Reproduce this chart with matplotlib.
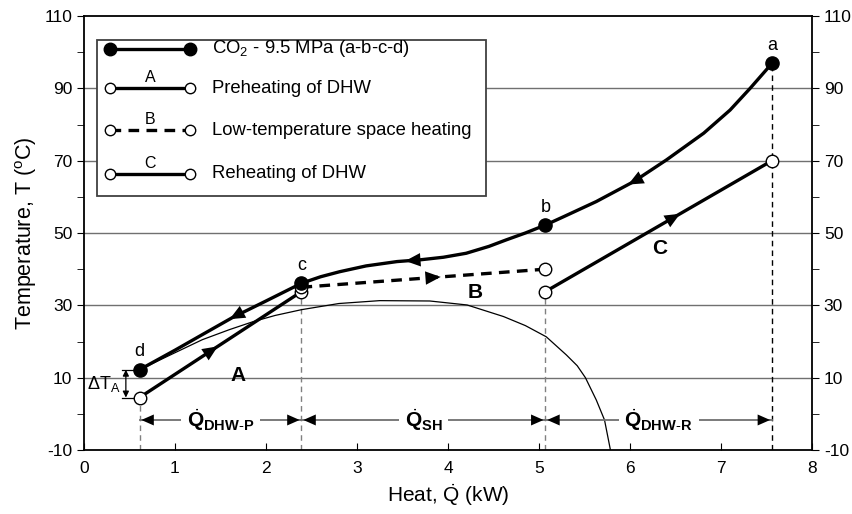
import numpy as np
import matplotlib
matplotlib.use("Agg")
from matplotlib import pyplot as plt
from matplotlib.patches import Rectangle
from matplotlib.lines import Line2D

plt.rcParams['font.family'] = ['Liberation Sans', 'DejaVu Sans']
plt.rcParams['mathtext.fontset'] = 'custom'
plt.rcParams['mathtext.rm'] = 'Liberation Sans'
plt.rcParams['mathtext.it'] = 'Liberation Sans:italic'
plt.rcParams['mathtext.bf'] = 'Liberation Sans:bold'
plt.rcParams['axes.unicode_minus'] = False

# CO2 gas cooler curve a-b-c-d (heat in kW, temperature in C)
co2_q = [0.61, 1.0, 1.3, 1.63, 2.0, 2.39, 2.6, 2.81, 3.1, 3.44, 3.7, 3.95, 4.2, 4.45, 4.64,
         4.85, 5.07, 5.27, 5.63, 6.04, 6.4, 6.81, 7.1, 7.32, 7.56]
co2_t = [12.2, 17.6, 21.9, 26.6, 31.2, 36.1, 37.9, 39.3, 40.9, 42.1, 42.6, 43.3, 44.4, 46.3, 48.1,
         50.0, 52.2, 54.5, 58.7, 64.2, 70.2, 77.6, 84.0, 90.0, 96.9]
state_q = [7.56, 5.07, 2.39, 0.61]
state_t = [96.9, 52.2, 36.1, 12.2]
state_lbl = ['a', 'b', 'c', 'd']

# water side processes
a_q = [0.61, 2.39]
a_t = [4.5, 33.8]
b_q = [2.39, 5.07]
b_t = [35.0, 40.0]
c_q = [5.07, 7.56]
c_t = [33.8, 70.0]

# thin curve
thin_q = [0.61, 1.0, 1.3, 1.6, 1.86, 2.1, 2.39, 2.8, 3.25, 3.8, 4.21, 4.61, 4.85, 5.08, 5.30,
          5.42, 5.51, 5.63, 5.72, 5.785]
thin_t = [12.2, 16.9, 20.5, 23.3, 25.5, 27.2, 28.8, 30.5, 31.3, 31.2, 30.1, 26.9, 24.4, 21.3, 16.3,
          13.3, 10.0, 3.8, -1.7, -10.0]

# heat duty segments
seg_q = [0.61, 2.39, 5.07, 7.56]
seg_lbl = [r'$\dot{\mathbf{Q}}_{\mathbf{DHW}\text{-}\mathbf{P}}$',
           r'$\dot{\mathbf{Q}}_{\mathbf{SH}}$',
           r'$\dot{\mathbf{Q}}_{\mathbf{DHW}\text{-}\mathbf{R}}$']
seg_y = -1.7

fig = plt.figure(figsize=(8.53, 5.14), dpi=100)
ax = fig.add_axes([84/853, 1-450/514, 728/853, 434/514])
ax.set_xlim(0, 8)
ax.set_ylim(-10, 110)

for y in [10, 30, 50, 70, 90]:
    ax.axhline(y, color='#707070', lw=1.0, zorder=1)

ax.plot(thin_q, thin_t, color='black', lw=0.9, zorder=3)

lw = 2.4
ax.plot(a_q, a_t, color='black', lw=lw, zorder=4)
ax.plot(b_q, b_t, color='black', lw=lw, ls=(0, (3.2, 2.2)), zorder=4)
ax.plot(c_q, c_t, color='black', lw=lw, zorder=4)
ax.plot(co2_q, co2_t, color='black', lw=lw, zorder=5, solid_joinstyle='round')

open_q = a_q + b_q + c_q
open_t = a_t + b_t + c_t
ax.plot(open_q, open_t, 'o', ms=9, mfc='white', mec='black', mew=1.0, zorder=6)
ax.plot(state_q, state_t, 'o', ms=9.5, mfc='black', mec='black', zorder=7)

# vertical dashed guides
for q, t0, col in [(0.61, 4.5, '#808080'), (2.39, 33.8, '#808080'), (5.07, 33.8, '#808080'), (7.56, 96.9, 'black')]:
    ax.plot([q, q], [-10, t0], color=col, lw=1.0, ls=(0, (4, 3)), zorder=2)


def head(qs, ts, q, reverse=False, size=22, color='black'):
    d = 0.02
    t1 = np.interp(q - d, qs, ts)
    t2 = np.interp(q + d, qs, ts)
    p1, p2 = (q - d, t1), (q + d, t2)
    if reverse:
        p1, p2 = p2, p1
    ax.annotate('', xy=p2, xytext=p1,
                arrowprops=dict(arrowstyle='-|>,head_length=0.5,head_width=0.22', color=color, lw=0,
                                mutation_scale=size, shrinkA=0, shrinkB=0),
                zorder=8)


head(a_q, a_t, 1.45)
head(b_q, b_t, 3.9)
head(c_q, c_t, 6.53)
head(co2_q, co2_t, 6.0, reverse=True)
head(co2_q, co2_t, 3.55, reverse=True)
head(co2_q, co2_t, 1.62, reverse=True)

for q, t, s in zip(state_q, state_t, state_lbl):
    ax.text(q, t + 2.6, s, ha='center', va='bottom', fontsize=13)

ax.text(1.69, 10.6, 'A', fontsize=15, fontweight='bold', ha='center', va='center')
ax.text(4.3, 33.6, 'B', fontsize=15, fontweight='bold', ha='center', va='center')
ax.text(6.33, 45.7, 'C', fontsize=15, fontweight='bold', ha='center', va='center')

# heat duty arrows
for i in range(3):
    q0, q1 = seg_q[i], seg_q[i + 1]
    ax.plot([q0, q1], [seg_y, seg_y], color='#707070', lw=1.3, zorder=3)
    for qa, qb in [(q0 + 0.12, q0 + 0.02), (q1 - 0.12, q1 - 0.02)]:
        ax.annotate('', xy=(qb, seg_y), xytext=(qa, seg_y),
                    arrowprops=dict(arrowstyle='-|>,head_length=0.5,head_width=0.22', color='black',
                                    lw=0, mutation_scale=18, shrinkA=0, shrinkB=0), zorder=4)
    ax.text((q0 + q1) / 2, seg_y, seg_lbl[i], fontsize=15, ha='center', va='center',
            bbox=dict(fc='white', ec='none', pad=4), zorder=4)

# delta T_A marker
ax.plot([0.42, 0.61], [12.2, 12.2], color='black', lw=0.9)
ax.plot([0.42, 0.61], [4.5, 4.5], color='black', lw=0.9)
ax.annotate('', xy=(0.46, 12.2), xytext=(0.46, 4.5),
            arrowprops=dict(arrowstyle='<|-|>', color='black', lw=0.9,
                            mutation_scale=9, shrinkA=0, shrinkB=0))
ax.text(0.40, 8.2, r'$\Delta$T$_\mathrm{A}$', fontsize=13, ha='right', va='center')

# legend drawn by hand
ax.add_patch(Rectangle((0.018, 0.585), 0.534, 0.36, transform=ax.transAxes,
                       fc='white', ec='#404040', lw=1.3, zorder=9))
rows = [0.924, 0.834, 0.737, 0.636]
entries = [('CO$_2$ - 9.5 MPa (a-b-c-d)', '-', 'black', ''),
           ('Preheating of DHW', '-', 'white', 'A'),
           ('Low-temperature space heating', (0, (3.2, 2.2)), 'white', 'B'),
           ('Reheating of DHW', '-', 'white', 'C')]
for y, (lbl, ls, fc, letter) in zip(rows, entries):
    ax.add_line(Line2D([0.0357, 0.146], [y, y], transform=ax.transAxes, color='black',
                       lw=lw, ls=ls, marker='o', ms=9 if fc == 'black' else 7.5,
                       mfc=fc, mec='black', mew=1.0, zorder=10))
    ax.text(0.176, y, lbl, transform=ax.transAxes, fontsize=13.3, va='center', zorder=10)
    if letter:
        ax.text(0.0907, y + 0.008, letter, transform=ax.transAxes, fontsize=11.5,
                ha='center', va='bottom', zorder=10)

ax.set_yticks(np.arange(-10, 111, 20))
ax.set_yticks(np.arange(0, 101, 20), minor=True)
ax.set_xticks(np.arange(0, 9, 1))
ax.tick_params(axis='y', which='both', direction='out', length=5, left=True, right=True,
               labelleft=True, labelright=True, labelsize=12.5)
ax.tick_params(axis='x', direction='in', length=5, top=False, labelsize=12.5, pad=8)
for sp in ax.spines.values():
    sp.set_linewidth(1.3)

ax.set_xlabel(r'Heat, $\dot{\mathrm{Q}}$ (kW)', fontsize=15, labelpad=4)
ax.set_ylabel(r'Temperature, T ($^{\mathrm{o}}$C)', fontsize=15.5, labelpad=4)

fig.savefig('out.png', dpi=100)
